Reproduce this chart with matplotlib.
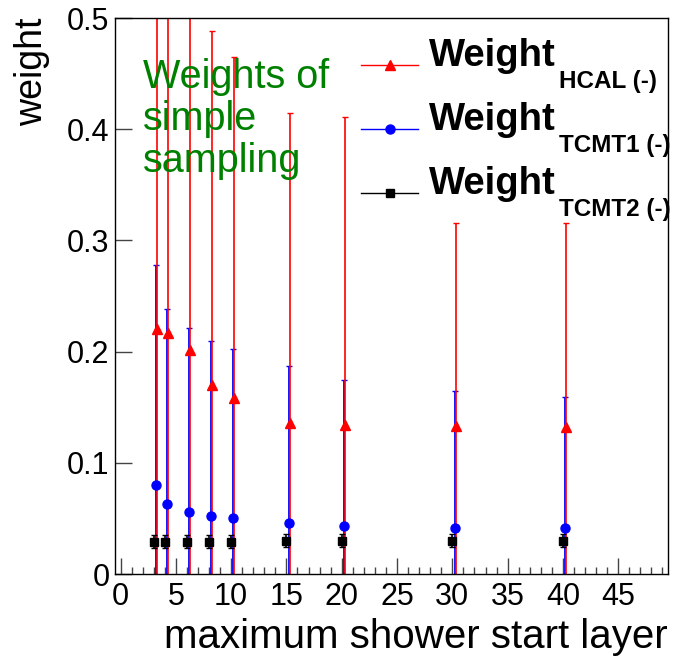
import matplotlib
matplotlib.use("Agg")
import matplotlib.pyplot as plt
from matplotlib.lines import Line2D
from matplotlib.ticker import MultipleLocator

plt.rcParams['font.family'] = ['Liberation Sans', 'DejaVu Sans']

# ---- data ----
layers = [3, 4, 6, 8, 10, 15, 20, 30, 40]
hcal = [0.220, 0.217, 0.201, 0.170, 0.158, 0.136, 0.134, 0.133, 0.132]
hcal_err = [0.40, 0.38, 0.36, 0.318, 0.307, 0.279, 0.277, 0.183, 0.184]
tcmt1 = [0.080, 0.063, 0.056, 0.0525, 0.050, 0.046, 0.0434, 0.0416, 0.0416]
tcmt1_err = [0.198, 0.175, 0.165, 0.157, 0.152, 0.141, 0.131, 0.123, 0.118]
tcmt2 = [0.029, 0.029, 0.029, 0.029, 0.029, 0.030, 0.030, 0.030, 0.030]
tcmt2_err = [0.006, 0.006, 0.006, 0.006, 0.006, 0.006, 0.006, 0.006, 0.006]
xticks = [0, 5, 10, 15, 20, 25, 30, 35, 40, 45]
yticks = [0, 0.1, 0.2, 0.3, 0.4, 0.5]
ytick_labels = ['0', '0.1', '0.2', '0.3', '0.4', '0.5']
legend_main = ['Weight', 'Weight', 'Weight']
legend_sub = ['HCAL (-)', 'TCMT1 (-)', 'TCMT2 (-)']
series_colors = ['red', 'blue', 'black']
series_markers = ['^', 'o', 's']

W, H = 674, 663
fig = plt.figure(figsize=(W / 100, H / 100), dpi=100)
ax = fig.add_axes([115 / W, 1 - 574 / H, (668 - 115) / W, (574 - 18) / H])

x_red = [v + 0.3 for v in layers]
x_blue = [v + 0.2 for v in layers]
x_blk = [v for v in layers]

ax.errorbar(x_blue, tcmt1, yerr=tcmt1_err, fmt='none', ecolor='blue', elinewidth=1.3,
            capsize=2.5, capthick=1.0, zorder=2.0)
ax.errorbar(x_red, hcal, yerr=hcal_err, fmt='none', ecolor='red', elinewidth=1.2,
            capsize=2.5, capthick=1.0, zorder=2.1)
ax.errorbar(x_blk, tcmt2, yerr=tcmt2_err, fmt='none', ecolor='black', elinewidth=1.2,
            capsize=2.5, capthick=1.0, zorder=2.2)
ax.plot(x_red, hcal, ls='none', marker='^', color='red', ms=6.5, zorder=3)
ax.plot(x_blue, tcmt1, ls='none', marker='o', color='blue', ms=6.5, zorder=3)
ax.plot(x_blk, tcmt2, ls='none', marker='s', color='black', ms=6, zorder=3)

ax.set_xlim(-0.5, 49.5)
ax.set_ylim(0, 0.5)
ax.set_xticks(xticks)
ax.xaxis.set_minor_locator(MultipleLocator(1))
ax.set_yticks(yticks)
ax.set_yticklabels(ytick_labels)
ax.tick_params(axis='x', which='major', direction='in', length=11.5, width=1.0,
               labelsize=22, pad=6, top=False, color='#444444')
ax.tick_params(axis='x', which='minor', direction='in', length=5, width=1.0,
               top=False, color='#444444')
ax.tick_params(axis='y', which='major', direction='in', length=12, width=1.0,
               labelsize=22, pad=4, right=False, color='#444444')
for s in ax.spines.values():
    s.set_linewidth(1.0)

ax.set_xlabel('maximum shower start layer', fontsize=29, loc='right', labelpad=4)
ax.set_ylabel('weight', fontsize=27, loc='top', labelpad=12)

ax.text(143 / W, 1 - 58 / H, 'Weights of\nsimple\nsampling', transform=fig.transFigure,
        fontsize=28.5, color='#008000', va='top', ha='left', linespacing=1.13)

# ---- legend (ROOT-style: marker line, bold label with lowered subscript) ----
row_y = [65, 129, 193]          # handle line y (pixels from top)
for i in range(3):
    y = row_y[i]
    fig.add_artist(Line2D([361 / W, 418 / W], [1 - y / H, 1 - y / H],
                          transform=fig.transFigure, color=series_colors[i], lw=1))
    fig.add_artist(Line2D([389.5 / W], [1 - y / H], transform=fig.transFigure,
                          color=series_colors[i], marker=series_markers[i],
                          ms=6.5 if i < 2 else 6, ls='none'))
    base = y + 1
    fig.text(429 / W, 1 - base / H, legend_main[i], fontsize=27.5, fontweight='bold',
             va='baseline', ha='left')
    fig.text(559 / W, 1 - (base + 22) / H, legend_sub[i], fontsize=17.5,
             fontweight='bold', va='baseline', ha='left')

fig.savefig('out.png', dpi=100)
